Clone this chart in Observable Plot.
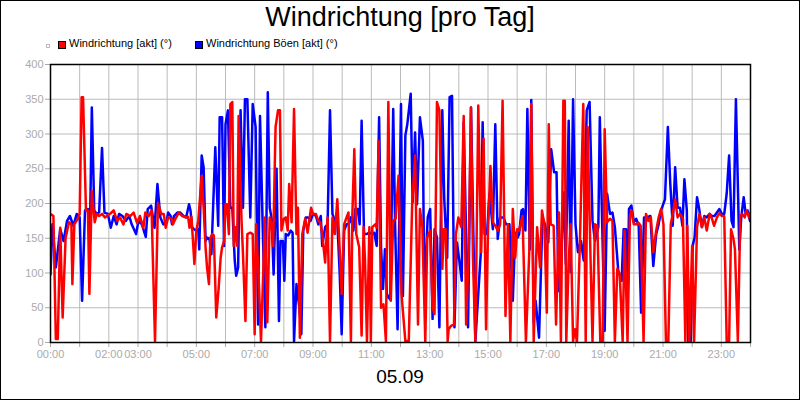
<!DOCTYPE html>
<html><head><meta charset="utf-8">
<script src="https://cdn.jsdelivr.net/npm/d3@7"></script>
<script src="https://cdn.jsdelivr.net/npm/@observablehq/plot@0.6"></script>
<style>
body{margin:0;background:#fff;font-family:"Liberation Sans",Arial,sans-serif;}
#wrap{position:relative;width:800px;height:400px;overflow:hidden;background:#fff;}
#chart{position:absolute;left:0;top:0;}
#border{position:absolute;left:0;top:0;width:800px;height:400px;box-sizing:border-box;border:1px solid #000;pointer-events:none;}
.t{position:absolute;white-space:nowrap;color:#000;}
#title{left:0;width:800px;text-align:center;top:4px;font-size:27px;line-height:27px;}
#date{left:0;width:800px;text-align:center;top:367px;font-size:19px;line-height:19px;}
.lg{font-size:11px;line-height:11px;top:38px;}
.sw{position:absolute;width:6px;height:6px;border:1px solid #000;top:41px;}
#tiny{position:absolute;left:46px;top:44px;width:2px;height:2px;border:1px solid #bbb;}
</style></head>
<body>
<div id="wrap">
  <div id="chart"></div>
  <div class="t" id="title">Windrichtung [pro Tag]</div>
  <div id="tiny"></div>
  <div class="sw" id="sw1" style="left:58px;background:#ff0000"></div>
  <div class="t lg" id="lg1" style="left:69px"></div>
  <div class="sw" id="sw2" style="left:195px;background:#0000ff"></div>
  <div class="t lg" id="lg2" style="left:206px"></div>
  <div class="t" id="date"></div>
  <div id="border"></div>
</div>
<script>
const seriesNames = ["Windrichtung [akt] (°)", "Windrichtung Böen [akt] (°)"];
const seriesColors = ["#ff0000", "#0000ff"];
const dateLabel = "05.09";
const xTickLabels = ["00:00","02:00","03:00","05:00","07:00","09:00","11:00","13:00","15:00","17:00","19:00","21:00","23:00"];
const yTicks = [0,50,100,150,200,250,300,350,400];

// [minutes since midnight, degrees]
const redSeries = [
[0,185],[6,182],[11,5],[15,5],[20,165],[25,36],[31,150],[38,173],[43,170],[45,84],[49,170],[56,178],[60,185],[64,353],[67,353],[73,190],[77,190],[80,70],[85,218],[91,173],[95,185],[100,182],[106,185],[112,180],[118,183],[124,186],[130,190],[137,175],[143,180],[150,170],[156,185],[164,182],[171,187],[178,172],[184,182],[191,165],[195,187],[202,182],[208,190],[215,2],[221,200],[228,185],[233,185],[237,165],
[242,180],[249,178],[252,170],[257,178],[264,187],[271,182],[278,180],[283,181],[286,165],[290,181],[296,113],[300,161],[304,175],[311,240],[315,194],[319,137],[322,108],[326,84],[329,151],[333,156],[336,154],[341,36],[346,79],[350,122],[353,137],[357,146],[360,199],[363,199],[367,156],[370,343],[374,346],[377,139],[381,166],[384,139],[387,326],[393,175],[396,127],[401,31],[405,156],[411,158],[416,156],[420,12],[423,170],[429,79],[433,2],[438,108],[441,180],[446,29],[451,180],[455,170],[458,139],[463,310],[468,334],[472,334],[475,161],[480,178],
[484,180],[488,161],[491,228],[496,173],[501,336],[506,156],[509,194],[513,7],[518,156],[524,178],[529,158],[536,194],[540,185],[546,185],[551,175],[555,173],[559,156],[565,115],[570,180],[575,2],[580,180],[585,156],[590,206],[595,132],[599,70],[604,170],[609,180],[613,187],[618,2],[621,185],[625,278],[629,156],[635,137],[640,10],[644,166],[647,118],[651,2],[656,166],[659,2],[662,166],[668,170],[671,165],[675,290],[680,50],[685,55],[690,2],[695,346],[700,60],[705,175],[710,178],[716,240],
[722,70],[730,2],[737,2],[744,199],[750,269],[756,26],[760,192],[765,166],[771,2],[775,151],[781,161],[786,50],[790,41],[795,346],[800,334],[806,106],[809,163],[813,163],[817,2],[819,19],[824,24],[830,26],[834,156],[839,180],[845,166],[850,326],[855,26],[860,122],[865,338],[869,122],[874,2],[880,341],[886,130],[891,293],[896,19],[900,161],[905,254],[910,173],[915,168],[920,161],[925,170],[930,348],[936,38],[941,170],[946,2],[951,192],[956,122],[960,163],
[964,161],[971,182],[978,2],[985,132],[989,343],[994,2],[1001,166],[1007,108],[1011,190],[1016,170],[1021,43],[1025,314],[1029,170],[1035,168],[1040,26],[1046,187],[1050,2],[1055,348],[1058,348],[1061,2],[1066,118],[1070,170],[1075,2],[1079,19],[1083,2],[1089,142],[1096,343],[1101,2],[1105,310],[1111,118],[1115,2],[1120,170],[1125,168],[1131,2],[1136,2],[1140,307],[1145,173],[1151,178],[1156,175],[1161,2],[1166,106],[1171,98],[1177,2],[1181,161],[1187,2],[1192,182],[1195,190],[1200,170],
[1205,170],[1210,172],[1214,168],[1220,2],[1225,185],[1230,175],[1235,180],[1240,130],[1246,161],[1251,180],[1256,192],[1261,170],[1266,2],[1271,2],[1276,170],[1280,185],[1285,206],[1290,180],[1295,185],[1301,178],[1306,2],[1310,168],[1314,2],[1320,139],[1324,2],[1330,166],[1335,185],[1340,166],[1345,180],[1350,161],[1356,185],[1360,180],[1365,168],[1371,180],[1376,186],[1381,182],[1386,182],[1391,2],[1396,2],[1400,163],[1405,149],[1408,134],[1414,2],[1419,182],[1423,185],[1428,180],[1432,190],[1437,180],[1440,187]
];

const blueSeries = [
[0,98],[4,170],[11,108],[20,163],[27,146],[34,175],[40,182],[47,168],[54,185],[60,180],[65,60],[71,190],[77,192],[81,151],[85,338],[90,190],[95,185],[100,187],[106,280],[111,187],[118,185],[124,165],[130,182],[136,170],[141,185],[148,182],[155,175],[162,182],[167,170],[176,156],[181,175],[188,170],[196,152],[200,192],[207,197],[214,165],[220,228],[226,180],[232,170],[239,175],
[242,187],[247,182],[250,170],[254,182],[261,187],[267,187],[274,182],[279,180],[285,199],[288,190],[291,166],[295,163],[300,161],[304,163],[306,134],[311,269],[315,252],[319,146],[322,151],[327,149],[331,127],[339,281],[345,168],[348,324],[353,324],[357,139],[360,314],[365,334],[370,194],[374,194],[379,118],[382,96],[386,108],[391,334],[396,194],[400,350],[405,350],[411,180],[416,343],[422,310],[427,26],[431,326],[437,154],[442,22],[447,360],[451,194],[455,178],[459,98],[465,250],[470,31],[473,146],[478,146],[481,89],
[484,156],[489,154],[494,161],[498,158],[501,2],[506,84],[512,50],[516,12],[520,161],[525,180],[530,180],[535,175],[540,185],[546,182],[551,170],[556,182],[559,139],[565,166],[570,170],[575,334],[580,185],[585,175],[590,175],[595,98],[599,12],[604,161],[609,170],[613,170],[618,180],[623,161],[627,192],[632,192],[636,170],[640,319],[645,156],[650,156],[656,158],[661,156],[666,158],[671,139],[676,324],[680,137],[684,77],[688,134],[692,70],[695,65],[699,62],[705,336],[709,166],[714,19],
[721,343],[725,67],[730,298],[734,314],[741,358],[745,202],[750,302],[754,199],[760,324],[766,290],[769,70],[776,180],[781,192],[786,34],[790,163],[795,151],[800,22],[806,334],[810,206],[816,122],[821,353],[826,355],[831,22],[836,144],[841,118],[846,89],[850,317],[859,22],[865,338],[874,2],[880,70],[885,127],[889,317],[893,156],[898,156],[903,214],[910,163],[915,314],[920,149],[925,180],[932,180],[937,170],[944,170],[951,60],[956,158],[961,151],
[964,156],[969,190],[972,192],[977,161],[981,336],[986,134],[989,349],[994,29],[998,60],[1005,7],[1012,180],[1017,170],[1024,144],[1030,278],[1036,245],[1041,245],[1045,74],[1050,118],[1056,216],[1060,113],[1066,319],[1070,101],[1075,350],[1080,170],[1085,130],[1091,146],[1097,118],[1103,334],[1109,346],[1115,175],[1120,146],[1127,166],[1130,324],[1136,137],[1140,17],[1145,214],[1151,185],[1156,187],[1161,166],[1168,103],[1175,89],[1179,163],[1184,163],[1187,50],[1190,192],[1195,197],[1200,173],
[1205,178],[1210,168],[1215,43],[1221,180],[1227,180],[1234,182],[1240,110],[1246,156],[1251,170],[1256,190],[1264,206],[1270,310],[1275,228],[1280,168],[1285,252],[1290,194],[1295,194],[1300,168],[1304,235],[1309,190],[1312,2],[1317,2],[1321,139],[1325,151],[1330,209],[1334,194],[1340,166],[1345,182],[1350,180],[1356,185],[1360,182],[1366,182],[1371,187],[1376,192],[1381,185],[1386,185],[1391,214],[1396,269],[1401,175],[1405,166],[1410,350],[1417,134],[1421,180],[1426,209],[1430,185],[1434,190],[1439,175]
];

document.getElementById("lg1").textContent = seriesNames[0];
document.getElementById("lg2").textContent = seriesNames[1];
document.getElementById("date").textContent = dateLabel;

const hourTicks = d3.range(0, 1441, 60);
const labelMap = new Map(xTickLabels.map(s => [(+s.slice(0,2))*60 + (+s.slice(3,5)), s]));

const chart = Plot.plot({
  width: 800, height: 400,
  marginLeft: 50, marginRight: 50, marginTop: 64, marginBottom: 58,
  style: {fontFamily: "'Liberation Sans', Arial, sans-serif", fontSize: "11px", background: "transparent", overflow: "visible"},
  x: {domain: [0, 1440]},
  y: {domain: [0, 400]},
  marks: [
    Plot.gridX(hourTicks, {stroke: "#bbb", strokeOpacity: 1}),
    Plot.gridY(yTicks, {stroke: "#bbb", strokeOpacity: 1}),
    Plot.axisX({ticks: hourTicks, tickFormat: d => labelMap.get(d) ?? "", tickSize: 5, tickPadding: 3, color: "#aaa", label: null}),
    Plot.axisY({ticks: yTicks, tickFormat: d => String(d), tickSize: 5, tickPadding: 2, color: "#aaa", label: null}),
    Plot.line(blueSeries, {x: d => d[0], y: d => d[1], stroke: seriesColors[1], strokeWidth: 2.5, strokeLinejoin: "round", clip: true}),
    Plot.line(redSeries, {x: d => d[0], y: d => d[1], stroke: seriesColors[0], strokeWidth: 2.5, strokeLinejoin: "round", clip: true}),
    Plot.frame({stroke: "#000", strokeWidth: 1.5})
  ]
});
document.getElementById("chart").appendChild(chart);
</script>
</body></html>
